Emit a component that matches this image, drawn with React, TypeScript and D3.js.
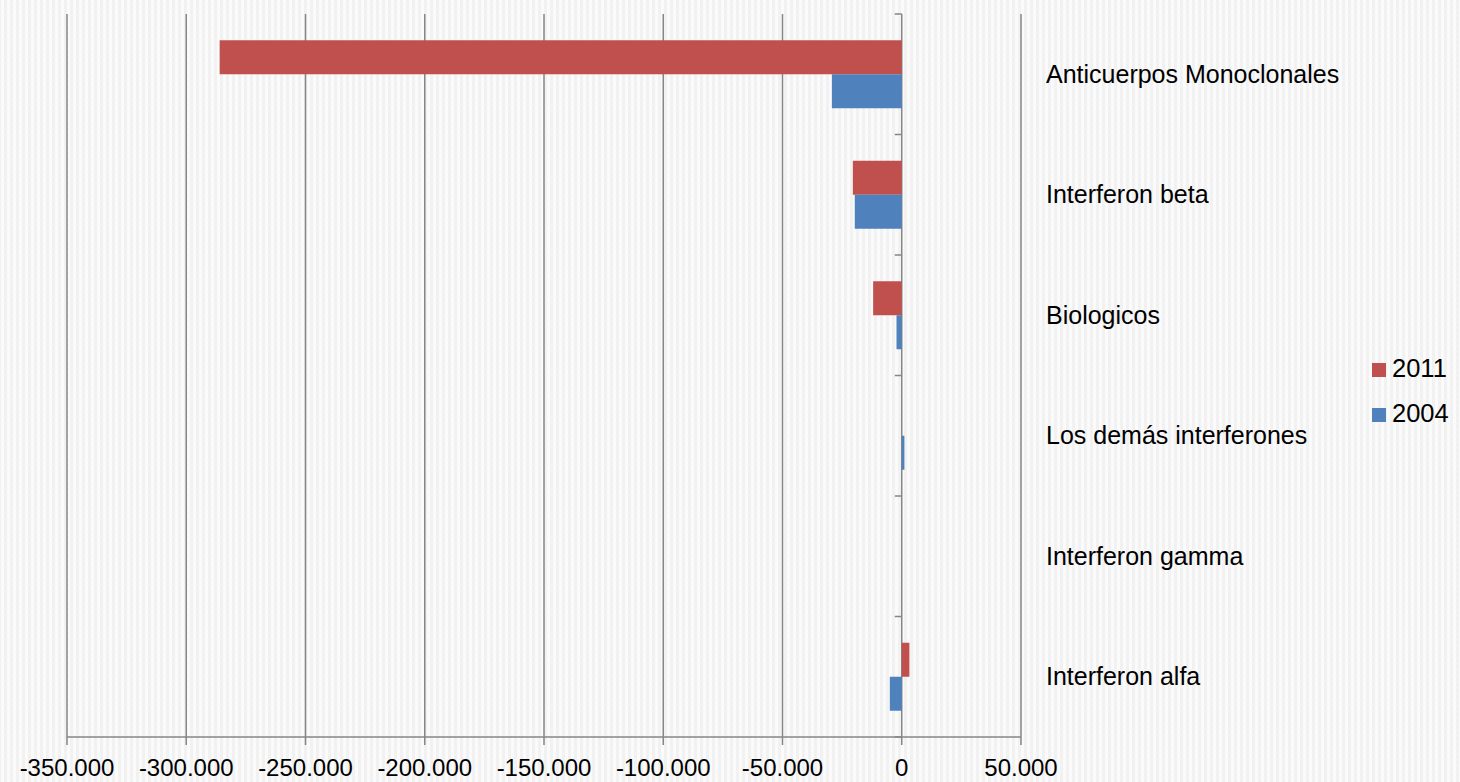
import * as d3 from "d3";

const categories = [
  "Anticuerpos Monoclonales",
  "Interferon beta",
  "Biologicos",
  "Los demás interferones",
  "Interferon gamma",
  "Interferon alfa",
];
const seriesNames = ["2011", "2004"];
const values2011 = [-286000, -20500, -12000, 0, 0, 3200];
const values2004 = [-29300, -19700, -2200, 1100, 0, -5000];
const xTicks = [-350000, -300000, -250000, -200000, -150000, -100000, -50000, 0, 50000];
const seriesColors: Record<string, string> = { "2011": "#C0504D", "2004": "#4F81BD" };

const W = 1460;
const H = 782;
const margin = { t: 14, b: 45, l: 67, r: 439 };

const fmt = (v: number) => {
  if (v === 0) return "0";
  const s = d3.format(",")(v);
  return s.replace(/,/g, ".").replace("−", "-");
};

export default function App() {
  const x = d3
    .scaleLinear()
    .domain([-350000, 50000])
    .range([margin.l, W - margin.r]);
  const y = d3
    .scaleBand()
    .domain(categories)
    .range([margin.t, H - margin.b])
    .paddingInner(0)
    .paddingOuter(0);
  const inner = d3
    .scaleBand()
    .domain(seriesNames)
    .range([0, y.bandwidth()])
    .paddingInner(0)
    .paddingOuter(0.772);

  const data = categories.map((c, i) => ({
    cat: c,
    vals: [
      { key: "2011", v: values2011[i] },
      { key: "2004", v: values2004[i] },
    ],
  }));

  const bottom = H - margin.b;
  const x0 = x(0);
  const grid = "#868686";
  const font = "'Liberation Sans', Arial, sans-serif";
  const boundaries = [...categories.map((c) => y(c) as number), bottom];

  return (
    <div style={{ position: "absolute", left: 0, top: 0 }}>
      <svg width={W} height={H} style={{ display: "block" }}>
        <defs>
          <pattern id="bg" width="6" height="6" patternUnits="userSpaceOnUse">
            <rect width="6" height="6" fill="#f1f1f1" />
            <rect x="1" width="3" height="6" fill="#fbfbfb" />
            <rect x="0" y="3" width="6" height="1" fill="#f6f6f6" opacity="0.6" />
          </pattern>
        </defs>
        <rect width={W} height={H} fill="url(#bg)" />

        {/* gridlines */}
        {xTicks.map((t) => (
          <line
            key={"g" + t}
            x1={x(t)}
            x2={x(t)}
            y1={margin.t}
            y2={bottom + 8}
            stroke={grid}
            strokeWidth={1.5}
          />
        ))}
        <line x1={x(-350000)} x2={x(50000)} y1={bottom} y2={bottom} stroke={grid} strokeWidth={1.5} />

        {/* category ticks on zero axis */}
        {boundaries.map((b, i) => (
          <line key={"ct" + i} x1={x0 - 7} x2={x0} y1={b} y2={b} stroke={grid} strokeWidth={1.5} />
        ))}

        {/* bars */}
        {data.map((d) => (
          <g key={d.cat} transform={`translate(0,${y(d.cat)})`}>
            {d.vals
              .filter((s) => s.v !== 0)
              .map((s) => (
                <rect
                  key={s.key}
                  x={Math.min(x(s.v), x0)}
                  width={Math.abs(x(s.v) - x0)}
                  y={inner(s.key)}
                  height={inner.bandwidth()}
                  fill={seriesColors[s.key]}
                />
              ))}
          </g>
        ))}

        {/* x tick labels */}
        {xTicks.map((t) => (
          <text
            key={"l" + t}
            x={x(t)}
            y={776}
            textAnchor="middle"
            fontFamily={font}
            fontSize={24}
            fill="#000"
          >
            {fmt(t)}
          </text>
        ))}

        {/* category labels */}
        {categories.map((c) => (
          <text
            key={"c" + c}
            x={1046}
            y={(y(c) as number) + y.bandwidth() / 2 + 8.5}
            fontFamily={font}
            fontSize={25}
            fill="#000"
          >
            {c}
          </text>
        ))}

        {/* legend */}
        {seriesNames.map((s, i) => (
          <g key={"lg" + s} transform={`translate(1372,${363 + i * 45})`}>
            <rect width={14} height={14} fill={seriesColors[s]} />
            <text x={20} y={14} fontFamily={font} fontSize={25.5} fill="#000">
              {s}
            </text>
          </g>
        ))}
      </svg>
    </div>
  );
}
